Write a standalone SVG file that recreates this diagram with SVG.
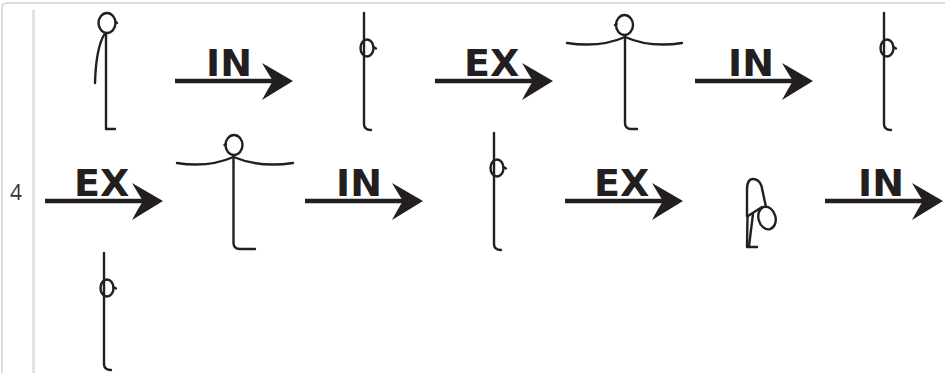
<svg xmlns="http://www.w3.org/2000/svg" xmlns:xlink="http://www.w3.org/1999/xlink" width="945" height="373" viewBox="0 0 945 373">
  <style>
    .frame{fill:none;stroke:#dddddd;stroke-width:2}
    .rule{stroke:#dddddd;stroke-width:2.5}
    .fig{fill:none;stroke:#231f20;stroke-width:2.4;stroke-linecap:round;stroke-linejoin:round}
    .shaft{stroke:#231f20;stroke-width:4.5}
    .tip{fill:#231f20}
    .lbl{font-family:"DejaVu Sans",sans-serif;font-weight:bold;font-size:38px;fill:#231f20}
    .num{font-family:"Open Sans","DejaVu Sans",sans-serif;font-size:21px;fill:#333333}
  </style>
  <defs>
    <!-- standing, side view, arm hanging -->
    <g id="stand-side">
      <ellipse class="fig" cx="62" cy="23" rx="8.5" ry="10"/>
      <path class="fig" d="M70.5,21.5 L72,23"/>
      <path class="fig" d="M61,33 V129 H70"/>
      <path class="fig" d="M59.5,34 Q51,48 50,83"/>
    </g>
    <!-- standing, arms raised overhead -->
    <g id="stand-up">
      <path class="fig" d="M59,13 V124 Q59,130 66,130"/>
      <ellipse class="fig" cx="62" cy="48" rx="6.5" ry="8.5"/>
      <path class="fig" d="M68.5,47 L71,48.5"/>
    </g>
    <!-- standing, arms spread sideways -->
    <g id="stand-wide">
      <ellipse class="fig" cx="59.5" cy="25" rx="8.5" ry="10"/>
      <path class="fig" d="M51.5,24 L50,25"/>
      <path class="fig" d="M60,36 V123 Q60,129 66,129 H72"/>
      <path class="fig" d="M2,43 Q35,48 60,37 Q85,48 117,43"/>
    </g>
    <!-- same stance, longer step -->
    <g id="stand-wide-b">
      <ellipse class="fig" cx="59" cy="25" rx="8.5" ry="10"/>
      <path class="fig" d="M51,24 L49.5,25"/>
      <path class="fig" d="M58.5,36 V123 Q58.5,129 65,129 H80"/>
      <path class="fig" d="M2,43 Q33,48 58.5,37 Q85,48 118,43"/>
    </g>
    <!-- forward fold -->
    <g id="fold">
      <path class="fig" d="M52,96 V70 Q52,59 58,59 Q64,59 66.5,66 L71,87"/>
      <ellipse class="fig" cx="72" cy="98" rx="8.5" ry="11.5" transform="rotate(-15 72 98)"/>
      <path class="fig" d="M53,96 L67,87"/>
      <path class="fig" d="M52.5,96 L52,127 H62"/>
      <path class="fig" d="M58,94 L54,126"/>
    </g>
    <path id="head" d="M0,0 L-31,-18 Q-24,-6 -20,0 Q-24,6 -31,19 Z"/>
  </defs>

  <!-- frame -->
  <path class="frame" d="M2,373 V8 Q2,3 7,3 H945"/>
  <line class="rule" x1="33.5" y1="10" x2="33.5" y2="373"/>
  <text class="num" x="10" y="200">4</text>

  <!-- poses -->
  <g id="pose-1"><use xlink:href="#stand-side" x="45" y="0"/></g>
  <g id="pose-2"><use xlink:href="#stand-up" x="305" y="0"/></g>
  <g id="pose-3"><use xlink:href="#stand-wide" x="565" y="0"/></g>
  <g id="pose-4"><use xlink:href="#stand-up" x="825" y="0"/></g>
  <g id="pose-5"><use xlink:href="#stand-wide-b" x="175" y="120"/></g>
  <g id="pose-6"><use xlink:href="#stand-up" x="435" y="120"/></g>
  <g id="pose-7"><use xlink:href="#fold" x="695" y="120"/></g>
  <g id="pose-8"><use xlink:href="#stand-up" x="45" y="240"/></g>

  <!-- breath arrows -->
  <g id="connectors">
    <g transform="translate(175,0)">
      <line class="shaft" x1="0" y1="81" x2="100" y2="81"/>
      <use class="tip" xlink:href="#head" x="118" y="81"/>
      <text class="lbl" x="31" y="76">IN</text>
    </g>
    <g transform="translate(435,0)">
      <line class="shaft" x1="0" y1="81" x2="100" y2="81"/>
      <use class="tip" xlink:href="#head" x="118" y="81"/>
      <text class="lbl" x="29" y="76">EX</text>
    </g>
    <g transform="translate(695,0)">
      <line class="shaft" x1="0" y1="81" x2="100" y2="81"/>
      <use class="tip" xlink:href="#head" x="118" y="81"/>
      <text class="lbl" x="33" y="76">IN</text>
    </g>
    <g transform="translate(45,120)">
      <line class="shaft" x1="0" y1="81" x2="100" y2="81"/>
      <use class="tip" xlink:href="#head" x="118" y="81"/>
      <text class="lbl" x="29" y="76">EX</text>
    </g>
    <g transform="translate(305,120)">
      <line class="shaft" x1="0" y1="81" x2="100" y2="81"/>
      <use class="tip" xlink:href="#head" x="118" y="81"/>
      <text class="lbl" x="31" y="76">IN</text>
    </g>
    <g transform="translate(565,120)">
      <line class="shaft" x1="0" y1="81" x2="100" y2="81"/>
      <use class="tip" xlink:href="#head" x="118" y="81"/>
      <text class="lbl" x="29" y="76">EX</text>
    </g>
    <g transform="translate(825,120)">
      <line class="shaft" x1="0" y1="81" x2="100" y2="81"/>
      <use class="tip" xlink:href="#head" x="118" y="81"/>
      <text class="lbl" x="33" y="76">IN</text>
    </g>
  </g>
</svg>
